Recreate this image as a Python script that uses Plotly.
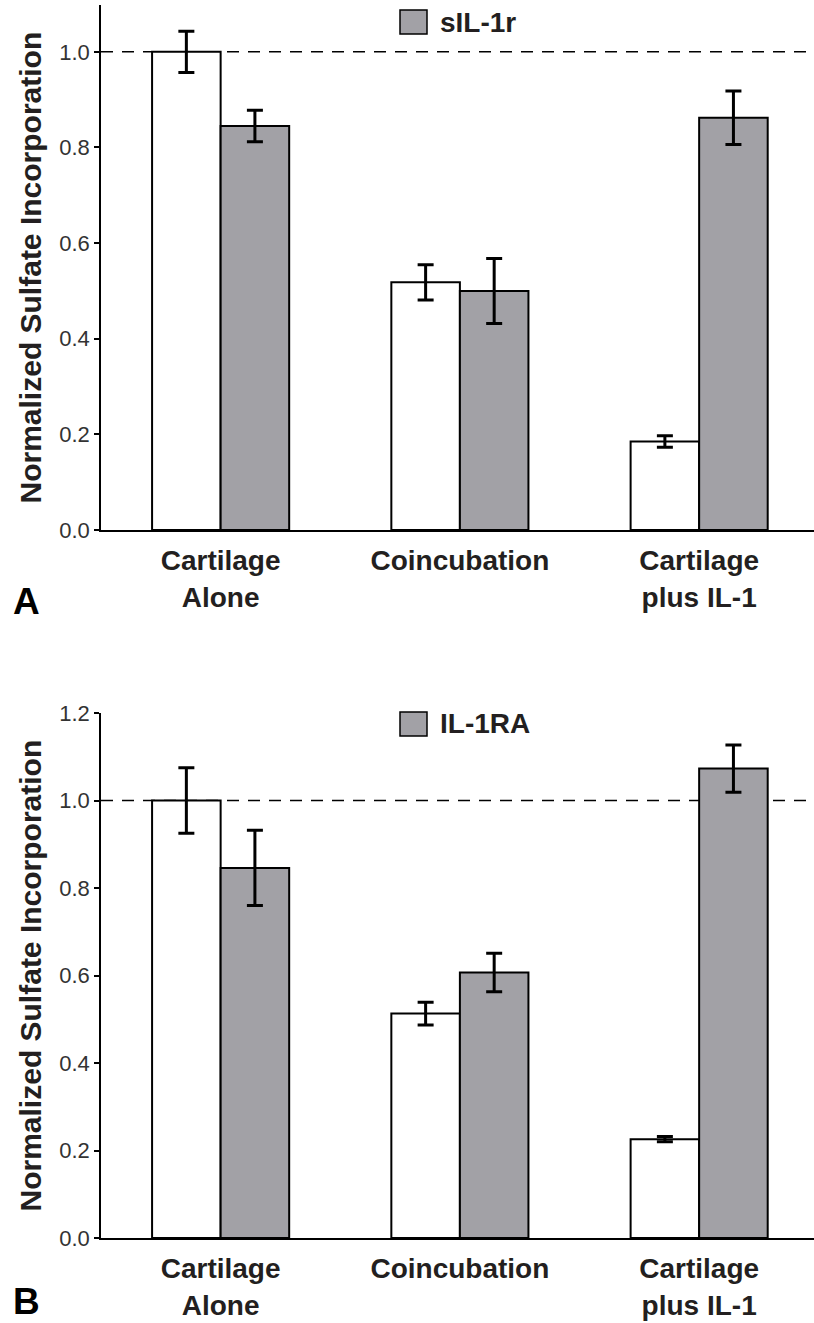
import plotly.graph_objects as go

# Data
categories = ["Cartilage<br>Alone", "Coincubation", "Cartilage<br>plus IL-1"]
x_pos = [0, 1, 2]

control_a = [1.0, 0.518, 0.185]
control_a_err = [0.043, 0.037, 0.012]
sil1r_a = [0.845, 0.500, 0.862]
sil1r_a_err = [0.033, 0.068, 0.056]

control_b = [1.0, 0.513, 0.226]
control_b_err = [0.075, 0.026, 0.006]
il1ra_b = [0.846, 0.607, 1.073]
il1ra_b_err = [0.086, 0.044, 0.054]

panel_labels = ["A", "B"]
legend_names = ["sIL-1r", "IL-1RA"]

W, H = 814, 1323
GRAY = "#a2a1a6"
INK = "#231f20"
FONT = "Liberation Sans, Arial, sans-serif"


def bar(y, err, color, xa, ya):
    return go.Bar(
        x=x_pos, y=y, xaxis=xa, yaxis=ya,
        marker=dict(color=color, line=dict(color="black", width=2)),
        error_y=dict(type="data", array=err, color="black", thickness=3, width=8),
        showlegend=False,
    )


fig = go.Figure()
fig.add_trace(bar(control_a, control_a_err, "white", "x", "y"))
fig.add_trace(bar(sil1r_a, sil1r_a_err, GRAY, "x", "y"))
fig.add_trace(bar(control_b, control_b_err, "white", "x2", "y2"))
fig.add_trace(bar(il1ra_b, il1ra_b_err, GRAY, "x2", "y2"))

xcommon = dict(
    range=[-0.5, 2.48], tickvals=x_pos,
    ticktext=[f"<b>{c}</b>" for c in categories],
    tickfont=dict(family=FONT, size=28, color=INK),
    showline=True, linecolor="black", linewidth=1.5,
    ticks="", ticklabelstandoff=5, showgrid=False, zeroline=False,
    domain=[0, 1], automargin=False,
)
ycommon = dict(
    showline=True, linecolor="black", linewidth=1.5,
    ticks="outside", ticklen=5, tickwidth=1.5, tickcolor="black",
    tickformat=".1f", dtick=0.2,
    tickfont=dict(family=FONT, size=22, color="#333333"),
    showgrid=False, zeroline=False, automargin=False,
)

fig.update_layout(
    width=W, height=H,
    margin=dict(l=101, r=0, t=0, b=0, autoexpand=False),
    paper_bgcolor="white", plot_bgcolor="white",
    barmode="group", bargap=0.427, bargroupgap=0,
    xaxis=dict(**xcommon, anchor="y"),
    xaxis2=dict(**xcommon, anchor="y2"),
    yaxis=dict(**ycommon, range=[0, 1.098], domain=[(H - 530) / H, (H - 5) / H], anchor="x"),
    yaxis2=dict(**ycommon, range=[0, 1.2], domain=[(H - 1238) / H, (H - 713) / H], anchor="x2"),
)

# dashed reference line at 1.0 in both panels
for xr, yr in [("x", "y"), ("x2", "y2")]:
    fig.add_shape(type="line", xref=f"{xr} domain", yref=yr, x0=0, x1=1, y0=1.0, y1=1.0,
                  line=dict(color="black", width=1.5, dash="12px,9px"), layer="below")

# legend swatches, panel labels, y titles
legend_tops = [10, 712]
axis_mid = [(5 + 530) / 2, (713 + 1238) / 2]
label_bottom = [623, 1323]
for i in range(2):
    top = legend_tops[i]
    fig.add_shape(type="rect", xref="paper", yref="paper",
                  x0=(400 - 101) / 713, x1=(427 - 101) / 713,
                  y0=1 - (top + 24) / H, y1=1 - top / H,
                  fillcolor=GRAY, line=dict(color="black", width=1.5))
    fig.add_annotation(xref="paper", yref="paper", x=(438 - 101) / 713, y=1 - (top + 12) / H,
                       text=f"<b>{legend_names[i]}</b>", showarrow=False,
                       xanchor="left", yanchor="middle",
                       font=dict(family=FONT, size=28, color=INK))
    fig.add_annotation(xref="paper", yref="paper", x=(30 - 101) / 713, y=1 - axis_mid[i] / H,
                       text="<b>Normalized Sulfate Incorporation</b>", textangle=-90,
                       showarrow=False, xanchor="center", yanchor="middle",
                       font=dict(family=FONT, size=30, color=INK))
    fig.add_annotation(xref="paper", yref="paper", x=(26 - 101) / 713, y=1 - label_bottom[i] / H,
                       text=f"<b>{panel_labels[i]}</b>", showarrow=False,
                       xanchor="center", yanchor="bottom", borderpad=0,
                       font=dict(family=FONT, size=37, color="black"))

fig.write_html("out.html", config={"displayModeBar": False},
               post_script="document.body.style.margin='0';")
